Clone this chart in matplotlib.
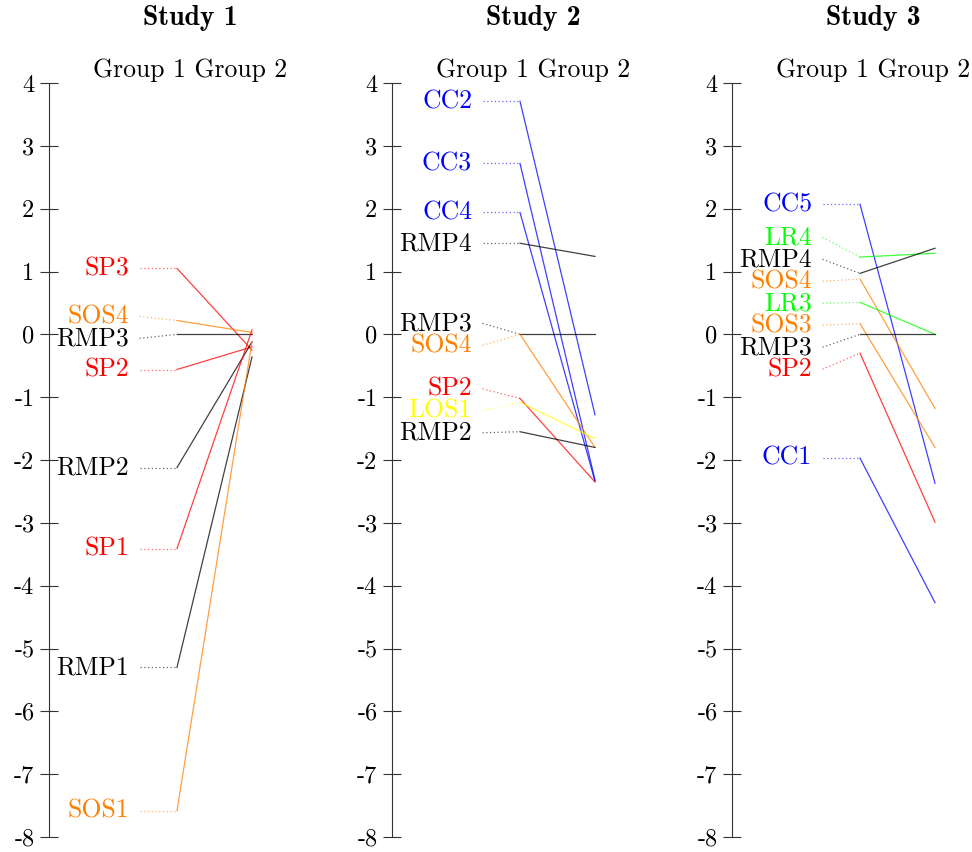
import matplotlib.pyplot as plt

plt.rcParams["font.family"] = "cmr10"
plt.rcParams["axes.unicode_minus"] = False

studies = ["Study 1", "Study 2", "Study 3"]
groups = ["Group 1", "Group 2"]
y_ticks = list(range(-8, 5))

# Study 1
names_1 = ["SP3", "SOS4", "RMP3", "SP2", "RMP2", "SP1", "RMP1", "SOS1"]
group1_1 = [1.05, 0.22, 0.0, -0.56, -2.12, -3.41, -5.30, -7.58]
group2_1 = [-0.25, 0.03, 0.0, -0.20, -0.12, 0.07, -0.36, -0.12]

# Study 2
names_2 = ["CC2", "CC3", "CC4", "RMP4", "RMP3", "SOS4", "SP2", "LOS1", "RMP2"]
group1_2 = [3.71, 2.72, 1.94, 1.45, 0.0, 0.0, -1.02, -1.08, -1.55]
group2_2 = [-1.28, -2.32, -2.34, 1.24, 0.0, -1.80, -2.35, -1.66, -1.80]

# Study 3
names_3 = ["CC5", "LR4", "RMP4", "SOS4", "LR3", "SOS3", "RMP3", "SP2", "CC1"]
group1_3 = [2.07, 1.23, 0.97, 0.88, 0.51, 0.17, 0.0, -0.30, -1.97]
group2_3 = [-2.37, 1.29, 1.37, -1.18, 0.0, -1.80, 0.0, -2.99, -4.27]

colours = {"SP": "#ff0000", "SOS": "#ff8000", "RMP": "#000000",
           "CC": "#0000ff", "LR": "#00ff00", "LOS": "#ffff00"}

all_names = [names_1, names_2, names_3]
all_g1 = [group1_1, group1_2, group1_3]
all_g2 = [group2_1, group2_2, group2_3]


def spread(values, gap=0.35):
    # push labels apart so they don't overlap
    order = sorted(range(len(values)), key=lambda i: -values[i])
    pos = [values[i] for i in order]
    for _ in range(300):
        for k in range(len(pos) - 1):
            d = pos[k] - pos[k + 1]
            if d < gap:
                s = (gap - d) / 2
                pos[k] += s
                pos[k + 1] -= s
    out = [0] * len(values)
    for k, i in enumerate(order):
        out[i] = pos[k]
    return out


W, H = 972, 852
fig = plt.figure(figsize=(W / 100, H / 100), dpi=100)

spine_px = [49, 392, 732]
unit = 75  # pixels between group 1 and group 2

for s in range(3):
    ax = fig.add_axes([spine_px[s] / W, 15 / H, 282 / W, 754 / H])
    ax.set_xlim(-128 / unit, 154 / unit)
    ax.set_ylim(-8, 4)

    names = all_names[s]
    g1 = all_g1[s]
    g2 = all_g2[s]
    label_y = spread(g1)

    for i, name in enumerate(names):
        c = colours[name.rstrip("0123456789")]
        ax.plot([0, 1], [g1[i], g2[i]], color=c, lw=0.9, alpha=0.75, clip_on=False)
        ax.plot([-0.5, 0], [label_y[i], g1[i]], color=c, lw=0.9, alpha=0.6,
                linestyle=(0, (1, 2)), clip_on=False)
        ax.text(-0.64, label_y[i], name, color=c, ha="right", va="center",
                fontsize=18.5)

    ax.set_yticks(y_ticks, [str(t) for t in y_ticks])
    ax.set_xticks([])
    ax.tick_params(axis="y", direction="inout", length=13, width=0.8,
                   labelsize=17.5, pad=4, color="#333333")
    for side in ["top", "right", "bottom"]:
        ax.spines[side].set_visible(False)
    ax.spines["left"].set_linewidth(0.8)
    ax.spines["left"].set_color("#333333")
    ax.patch.set_alpha(0)

    cx = (spine_px[s] + 141) / W
    fig.text(cx, 1 - 18 / H, studies[s], family="cmb10", fontsize=20,
             ha="center", va="center")
    fig.text(cx, 1 - 70 / H, " ".join(groups), fontsize=18.5,
             ha="center", va="center")

fig.savefig("out.png", dpi=100)
